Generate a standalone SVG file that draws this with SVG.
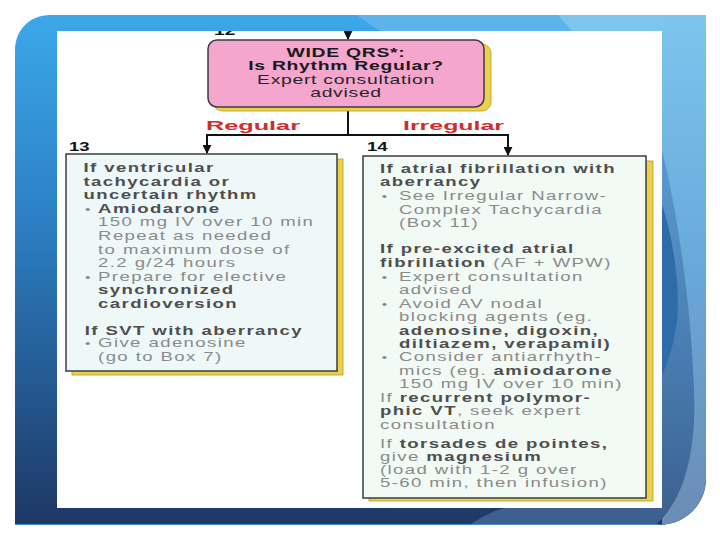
<svg xmlns="http://www.w3.org/2000/svg" width="720" height="540" viewBox="0 0 720 540">
<style>
text{font-family:"Liberation Sans",Arial,Helvetica,sans-serif;font-size:12px;letter-spacing:0.9px}
.b{font-weight:bold;fill:#4e4e4e}
.r{fill:#8a8a8a}
.bl{fill:#8a8a8a;font-size:10px}
.pb{font-weight:bold;fill:#1a1a1a;font-size:12.5px;letter-spacing:0.45px}
.pr{fill:#262626;font-size:12.5px;letter-spacing:0.45px}
.num{font-weight:bold;fill:#111;letter-spacing:0}
.lab{font-weight:bold;fill:#d42b2b;letter-spacing:0;font-size:12.5px}
.box{stroke:#3c3c3c;stroke-width:1.5}
.shadow{fill:#ebd04e;stroke:#b59a2a;stroke-width:0.8}
.wire{fill:none;stroke:#111;stroke-width:2}
</style>
<defs>
<linearGradient id="gL" x1="0" y1="15" x2="0" y2="525" gradientUnits="userSpaceOnUse">
<stop offset="0" stop-color="#3ba8ea"/>
<stop offset="0.4" stop-color="#2c80c3"/>
<stop offset="0.75" stop-color="#24568d"/>
<stop offset="1" stop-color="#1e3864"/>
</linearGradient>
<linearGradient id="gR" x1="0" y1="15" x2="0" y2="525" gradientUnits="userSpaceOnUse">
<stop offset="0" stop-color="#7dc5ef"/>
<stop offset="0.5" stop-color="#68a8da"/>
<stop offset="1" stop-color="#6c8cb4"/>
</linearGradient>
<linearGradient id="gM" x1="0" y1="150" x2="0" y2="525" gradientUnits="userSpaceOnUse">
<stop offset="0" stop-color="#5a9ad0"/>
<stop offset="0.5" stop-color="#4a7fb4"/>
<stop offset="1" stop-color="#3b5f8f"/>
</linearGradient>
<clipPath id="frameClip">
<path d="M15,50 C15,30 30,15 50,15 L706,15 L706,478 C706,505 685,525 658,525 L15,525 Z"/>
</clipPath>
<clipPath id="panelClip">
<rect x="57" y="31" width="605" height="477"/>
</clipPath>
<marker id="ah" viewBox="0 0 10 10" refX="9" refY="5" markerWidth="4.5" markerHeight="4.5" orient="auto" markerUnits="strokeWidth">
<path d="M0,0 L10,5 L0,10 Z" fill="#111"/>
</marker>
</defs>

<g id="background">
<path d="M15,50 C15,30 30,15 50,15 L706,15 L706,478 C706,505 685,525 658,525 L15,525 Z" fill="url(#gL)"/>
<g clip-path="url(#frameClip)">
<polygon points="356,15 706,15 706,31 380,31" fill="#5cb4ea"/>
<polygon points="558,15 706,15 706,31 572,31" fill="#7dc5ef"/>
<rect x="662" y="15" width="44" height="510" fill="url(#gR)"/>
<path d="M662,150 C672,190 690,280 694,390 C697,460 680,505 655,525 L470,525 C480,518 492,511 507,507 L662,507 Z" fill="url(#gM)"/>
<path d="M662,205 C674,240 680,290 677,320 C674,345 668,362 662,375 Z" fill="#2d6ca8"/>
</g>
<line x1="15" y1="524.5" x2="660" y2="524.5" stroke="#4f8ccc" stroke-width="1"/>
<rect x="57" y="31" width="605" height="477" fill="#ffffff"/>
</g>

<g id="connectors">
<line class="wire" x1="348" y1="31" x2="348" y2="39" marker-end="url(#ah)"/>
<polyline class="wire" points="348,107 348,135"/>
<polyline class="wire" points="207,135 508,135"/>
<line class="wire" x1="207" y1="134" x2="207" y2="153" marker-end="url(#ah)"/>
<line class="wire" x1="508" y1="134" x2="508" y2="155" marker-end="url(#ah)"/>
<text class="lab" x="206" y="130" textLength="94" lengthAdjust="spacingAndGlyphs">Regular</text>
<text class="lab" x="403" y="130" textLength="101" lengthAdjust="spacingAndGlyphs">Irregular</text>
</g>

<g id="box12">
<g clip-path="url(#panelClip)">
<text class="num" transform="translate(214 34.5) scale(1.6 1)" x="0" y="0">12</text>
</g>
<rect x="213" y="44" width="278" height="67" rx="9" fill="#ebd04e" stroke="#b59a2a" stroke-width="0.8"/>
<rect class="box" x="208" y="40" width="276" height="67" rx="9" fill="#f4a6cd"/>
<g transform="translate(346 0) scale(1.55 1)" text-anchor="middle">
<text class="pb" x="0" y="57">WIDE QRS*:</text>
<text class="pb" x="0" y="70.5">Is Rhythm Regular?</text>
<text class="pr" x="0" y="84">Expert consultation</text>
<text class="pr" x="0" y="97">advised</text>
</g>
</g>

<g id="box13">
<text class="num" transform="translate(69 151) scale(1.55 1)" x="0" y="0">13</text>
<rect class="shadow" x="72" y="159" width="271" height="216"/>
<rect class="box" x="66" y="154" width="271" height="217" fill="#eef8f9"/>
<g transform="translate(83.5 0) scale(1.55 1)">
<text class="b" x="0" y="172">If ventricular</text>
<text class="b" x="0" y="185.6">tachycardia or</text>
<text class="b" x="0" y="199.2">uncertain rhythm</text>
<text class="bl" x="1" y="212.8">•</text>
<text class="b" x="9.4" y="212.8">Amiodarone</text>
<text class="r" x="9.4" y="226.4">150 mg IV over 10 min</text>
<text class="r" x="9.4" y="240">Repeat as needed</text>
<text class="r" x="9.4" y="253.6">to maximum dose of</text>
<text class="r" x="9.4" y="267.2">2.2 g/24 hours</text>
<text class="bl" x="1" y="280.8">•</text>
<text class="r" x="9.4" y="280.8">Prepare for elective</text>
<text class="b" x="9.4" y="294.4">synchronized</text>
<text class="b" x="9.4" y="308">cardioversion</text>
<text class="b" x="0.8" y="334.7">If SVT with aberrancy</text>
<text class="bl" x="1" y="347.3">•</text>
<text class="r" x="9.4" y="347.3">Give adenosine</text>
<text class="r" x="9.4" y="360.7">(go to Box 7)</text>
</g>
</g>

<g id="box14">
<text class="num" transform="translate(367 151) scale(1.55 1)" x="0" y="0">14</text>
<rect class="shadow" x="369" y="161" width="284" height="340"/>
<rect class="box" x="363" y="156" width="283" height="342" fill="#f1faf5"/>
<g transform="translate(380 0) scale(1.55 1)">
<text class="b" x="0" y="173">If atrial fibrillation with</text>
<text class="b" x="0" y="186">aberrancy</text>
<text class="bl" x="1.1" y="200">•</text>
<text class="r" x="12.3" y="200">See Irregular Narrow-</text>
<text class="r" x="12.3" y="214">Complex Tachycardia</text>
<text class="r" x="12.3" y="227">(Box 11)</text>
<text class="b" x="0" y="253">If pre-excited atrial</text>
<text x="0" y="267"><tspan class="b">fibrillation</tspan><tspan class="r"> (AF + WPW)</tspan></text>
<text class="bl" x="1.1" y="281">•</text>
<text class="r" x="12.3" y="281">Expert consultation</text>
<text class="r" x="12.3" y="294">advised</text>
<text class="bl" x="1.1" y="308">•</text>
<text class="r" x="12.3" y="308">Avoid AV nodal</text>
<text class="r" x="12.3" y="321">blocking agents (eg.</text>
<text class="b" x="12.3" y="335">adenosine, digoxin,</text>
<text class="b" x="12.3" y="348">diltiazem, verapamil)</text>
<text class="bl" x="1.1" y="361">•</text>
<text class="r" x="12.3" y="361">Consider antiarrhyth-</text>
<text x="12.3" y="375"><tspan class="r">mics (eg. </tspan><tspan class="b">amiodarone</tspan></text>
<text class="r" x="12.3" y="388">150 mg IV over 10 min)</text>
<text x="0" y="402"><tspan class="r">If </tspan><tspan class="b">recurrent polymor-</tspan></text>
<text x="0" y="415"><tspan class="b">phic VT</tspan><tspan class="r">, seek expert</tspan></text>
<text class="r" x="0" y="429">consultation</text>
<text x="0" y="448"><tspan class="r">If </tspan><tspan class="b">torsades de pointes,</tspan></text>
<text x="0" y="461"><tspan class="r">give </tspan><tspan class="b">magnesium</tspan></text>
<text class="r" x="0" y="474">(load with 1-2 g over</text>
<text class="r" x="0" y="487">5-60 min, then infusion)</text>
</g>
</g>
</svg>
